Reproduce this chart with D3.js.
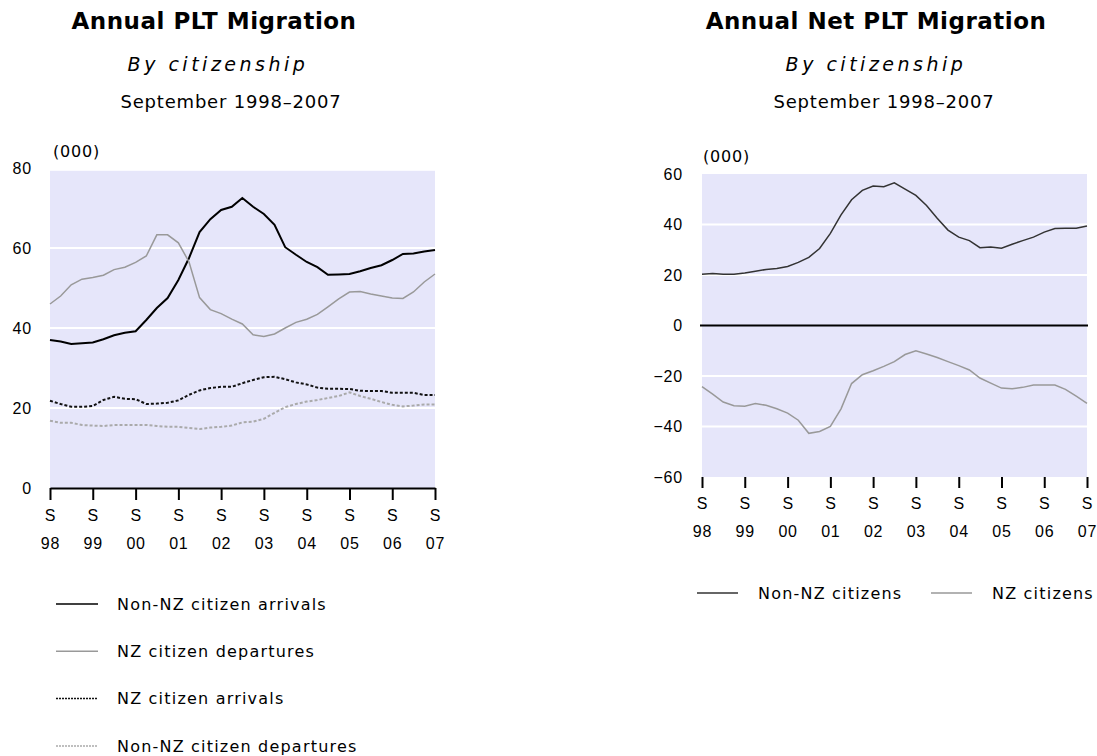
<!DOCTYPE html>
<html>
<head>
<meta charset="utf-8">
<script src="https://cdn.jsdelivr.net/npm/d3@7"></script>
<style>
  body { margin: 0; background: #fff; }
  svg { font-family: "DejaVu Sans", sans-serif; }
  .title { font-weight: bold; font-size: 23px; letter-spacing: 0.5px; }
  .sub { font-style: italic; font-size: 19px; letter-spacing: 3.5px; }
  .period { font-size: 18px; letter-spacing: 0.8px; }
  .lbl { font-size: 16px; letter-spacing: 0.8px; }
  .leg { font-size: 16px; letter-spacing: 1.2px; }
</style>
</head>
<body>
<svg id="canvas" width="1097" height="756"></svg>
<script>
// quarterly readings, September 1998 to September 2007 (000)
let yearLabels = ['98', '99', '00', '01', '02', '03', '04', '05', '06', '07']

let nonNzArrivals = [37.0, 36.6, 36.0, 36.2, 36.4, 37.2, 38.2, 38.8, 39.2, 42.0, 45.0, 47.5, 52.0,
  57.5, 64.0, 67.2, 69.5, 70.3, 72.5, 70.3, 68.5, 65.8, 60.2, 58.3, 56.5, 55.2, 53.3, 53.4, 53.5,
  54.2, 55.0, 55.7, 57.0, 58.5, 58.6, 59.1, 59.5]
let nzDepartures = [46.0, 48.0, 50.8, 52.2, 52.6, 53.2, 54.6, 55.2, 56.4, 58.0, 63.3, 63.3, 61.3,
  56.5, 47.6, 44.6, 43.6, 42.2, 41.0, 38.3, 37.9, 38.5, 40.0, 41.4, 42.2, 43.4, 45.3, 47.3, 49.0,
  49.1, 48.5, 48.0, 47.5, 47.4, 49.0, 51.5, 53.5]
let nzArrivals = [21.8, 21.0, 20.3, 20.3, 20.5, 22.0, 22.8, 22.3, 22.2, 21.0, 21.1, 21.3, 21.9,
  23.3, 24.4, 25.0, 25.3, 25.3, 26.2, 27.0, 27.7, 27.8, 27.2, 26.4, 25.9, 25.1, 24.8, 24.8, 24.75,
  24.3, 24.25, 24.25, 23.8, 23.8, 23.8, 23.25, 23.25]
let nonNzDepartures = [16.8, 16.3, 16.3, 15.75, 15.6, 15.5, 15.75, 15.75, 15.75, 15.75, 15.5, 15.3, 15.3,
  15.0, 14.75, 15.1, 15.3, 15.6, 16.4, 16.6, 17.3, 18.8, 20.2, 21.0, 21.6, 22.0, 22.5, 23.0, 23.9,
  23.0, 22.3, 21.5, 20.8, 20.4, 20.6, 20.9, 20.9]

let netNonNz = [20.3, 20.6, 20.3, 20.3, 20.8, 21.5, 22.2, 22.6, 23.4, 25.0, 27.0, 30.5, 36.5,
  43.8, 49.8, 53.5, 55.2, 55.0, 56.5, 54.0, 51.5, 47.5, 42.5, 37.8, 35.0, 33.6, 30.8, 31.1, 30.6,
  32.2, 33.6, 35.0, 37.0, 38.4, 38.5, 38.5, 39.4]
let netNz = [-24.2, -27.2, -30.3, -31.8, -32.0, -30.9, -31.6, -33.0, -34.7, -37.5, -42.7, -42.0, -40.0,
  -33.0, -23.0, -19.5, -17.9, -16.2, -14.3, -11.5, -10.0, -11.3, -12.7, -14.3, -15.9, -17.6, -20.8,
  -22.8, -24.8, -25.0, -24.5, -23.6, -23.6, -23.6, -25.3, -28.0, -30.8]

let leftTicks = [0, 20, 40, 60, 80]
let rightTicks = [-60, -40, -20, 0, 20, 40, 60]

let leftSeries = [
  {name: 'Non-NZ citizen arrivals', values: nonNzArrivals, color: '#000', width: 2, dash: null},
  {name: 'NZ citizen departures', values: nzDepartures, color: '#999', width: 1.5, dash: null},
  {name: 'NZ citizen arrivals', values: nzArrivals, color: '#111', width: 2, dash: '3,2'},
  {name: 'Non-NZ citizen departures', values: nonNzDepartures, color: '#aaa', width: 2, dash: '3,2'}
]
let rightSeries = [
  {name: 'Non-NZ citizens', values: netNonNz, color: '#333', width: 1.5},
  {name: 'NZ citizens', values: netNz, color: '#999', width: 1.5}
]

let start = new Date(1998, 8, 1)
let dates = nonNzArrivals.map((v, i) => d3.timeMonth.offset(start, i * 3))
let septs = yearLabels.map((y, i) => d3.timeYear.offset(start, i))

let canvas = d3.select('#canvas')

let drawHeader = (cx, title, offs) => {
  canvas.append('text').attr('class', 'title').attr('x', cx).attr('y', 29)
    .attr('text-anchor', 'middle').text(title)
  canvas.append('text').attr('class', 'sub').attr('x', cx + offs[0]).attr('y', 71)
    .attr('text-anchor', 'middle').text('By citizenship')
  canvas.append('text').attr('class', 'period').attr('x', cx + offs[1]).attr('y', 108)
    .attr('text-anchor', 'middle').text('September 1998–2007')
}

let drawXAxis = (x, y0, tickLen, withLine) => {
  let axis = canvas.append('g')
    .attr('transform', 'translate(0,' + y0 + ')')
    .call(d3.axisBottom(x).tickValues(septs).tickSize(tickLen).tickSizeOuter(0).tickFormat(''))
  axis.select('.domain').attr('stroke', withLine ? '#000' : 'none').attr('stroke-width', 2)
  axis.selectAll('.tick line').attr('stroke', '#000').attr('stroke-width', 2)
  axis.selectAll('.tick').each(function (d, i) {
    let g = d3.select(this)
    g.append('text').attr('class', 'lbl').attr('y', tickLen + 21).attr('fill', '#000')
      .attr('text-anchor', 'middle').text('S')
    g.append('text').attr('class', 'lbl').attr('y', tickLen + 49).attr('fill', '#000')
      .attr('text-anchor', 'middle').text(yearLabels[i])
  })
}

let drawYAxis = (y, x0, ticks, pad) => {
  let axis = canvas.append('g')
    .attr('transform', 'translate(' + x0 + ',0)')
    .call(d3.axisLeft(y).tickValues(ticks).tickSize(0).tickPadding(pad))
  axis.select('.domain').remove()
  axis.selectAll('text').attr('class', 'lbl').attr('fill', '#000')
}

// ---- left chart
let xL = d3.scaleTime().domain([start, dates[dates.length - 1]]).range([50, 435])
let yL = d3.scaleLinear().domain([0, 80]).range([488, 168])

drawHeader(214, 'Annual PLT Migration', [4, 17])

canvas.append('rect')
  .attr('x', xL.range()[0]).attr('y', yL(79.3))
  .attr('width', xL.range()[1] - xL.range()[0]).attr('height', yL(0) - yL(79.3))
  .attr('fill', '#e6e6fa')

canvas.selectAll('.gridL').data([20, 40, 60]).enter().append('line')
  .attr('x1', xL.range()[0]).attr('x2', xL.range()[1])
  .attr('y1', d => yL(d)).attr('y2', d => yL(d))
  .attr('stroke', '#fff').attr('stroke-width', 2)

canvas.append('text').attr('class', 'lbl').attr('x', 53).attr('y', 157).text('(000)')

drawYAxis(yL, 50, leftTicks, 18)

let lineL = d3.line().x((d, i) => xL(dates[i])).y(d => yL(d))
leftSeries.forEach(s => {
  canvas.append('path').datum(s.values)
    .attr('d', lineL).attr('fill', 'none')
    .attr('stroke', s.color).attr('stroke-width', s.width)
    .attr('stroke-dasharray', s.dash)
})

drawXAxis(xL, 488, 12, true)

let legL = canvas.selectAll('.legL').data(leftSeries).enter().append('g')
  .attr('transform', (d, i) => 'translate(56,' + (604 + i * 47.3) + ')')
legL.append('line').attr('x1', 0).attr('x2', 42)
  .attr('stroke', d => d.color).attr('stroke-width', 1.5)
  .attr('stroke-dasharray', d => d.dash ? '2,1' : null)
legL.append('text').attr('class', 'leg').attr('x', 61).attr('dy', '0.36em').text(d => d.name)

// ---- right chart
let xR = d3.scaleTime().domain([start, dates[dates.length - 1]]).range([702, 1087])
let yR = d3.scaleLinear().domain([-60, 60]).range([477, 174])

drawHeader(876, 'Annual Net PLT Migration', [0, 8])

canvas.append('rect')
  .attr('x', xR.range()[0]).attr('y', yR(60))
  .attr('width', xR.range()[1] - xR.range()[0]).attr('height', yR(-60) - yR(60))
  .attr('fill', '#e6e6fa')

canvas.selectAll('.gridR').data([-40, -20, 20, 40]).enter().append('line')
  .attr('x1', xR.range()[0]).attr('x2', xR.range()[1])
  .attr('y1', d => yR(d)).attr('y2', d => yR(d))
  .attr('stroke', '#fff').attr('stroke-width', 2)

canvas.append('line')
  .attr('x1', xR.range()[0] - 2).attr('x2', xR.range()[1] + 1)
  .attr('y1', yR(0)).attr('y2', yR(0))
  .attr('stroke', '#000').attr('stroke-width', 2)

canvas.append('text').attr('class', 'lbl').attr('x', 703).attr('y', 162).text('(000)')

drawYAxis(yR, 702, rightTicks, 19)

let lineR = d3.line().x((d, i) => xR(dates[i])).y(d => yR(d))
rightSeries.forEach(s => {
  canvas.append('path').datum(s.values)
    .attr('d', lineR).attr('fill', 'none')
    .attr('stroke', s.color).attr('stroke-width', s.width)
})

drawXAxis(xR, 477, 11, false)

let legR = canvas.selectAll('.legR').data(rightSeries).enter().append('g')
  .attr('transform', (d, i) => 'translate(' + (697 + i * 234) + ',593)')
legR.append('line').attr('x1', 0).attr('x2', 41)
  .attr('stroke', d => d.color).attr('stroke-width', 1.5)
legR.append('text').attr('class', 'leg').attr('x', 61).attr('dy', '0.36em').text(d => d.name)
</script>
</body>
</html>
